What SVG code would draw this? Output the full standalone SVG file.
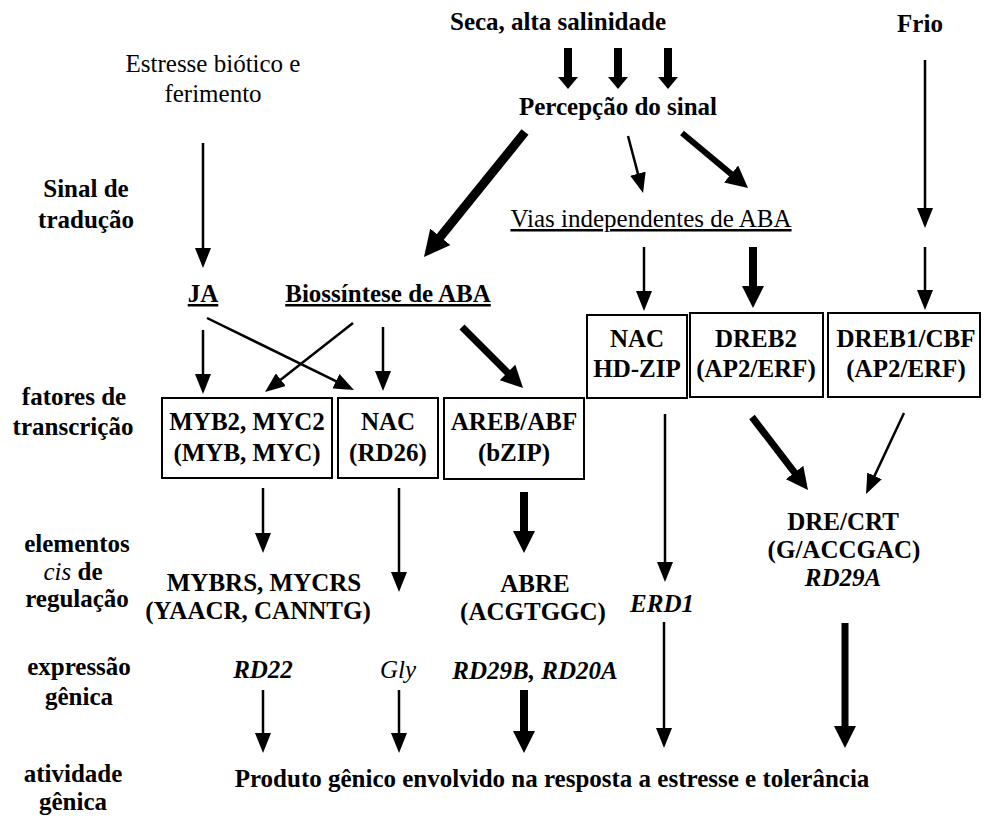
<svg xmlns="http://www.w3.org/2000/svg" width="985" height="816" viewBox="0 0 985 816">
<style>
text{font-family:"Liberation Serif","Times New Roman",serif;font-size:25px;fill:#000;text-anchor:middle}
.b{font-weight:bold}
.i{font-style:italic}
.u{text-decoration:underline}
.box{fill:#fff;stroke:#000;stroke-width:2}
.thin{fill:none;stroke:#000;stroke-width:2.5;marker-end:url(#mThin)}
.bold6{fill:none;stroke:#000;stroke-width:6;marker-end:url(#mBold)}
.bold7{fill:none;stroke:#000;stroke-width:7;marker-end:url(#mBold)}
.bold8{fill:none;stroke:#000;stroke-width:8;marker-end:url(#mBold)}
.short{fill:none;stroke:#000;stroke-width:8;marker-end:url(#mShort)}
.big{fill:none;stroke:#000;stroke-width:9;marker-end:url(#mBig)}
</style>
<defs>
<marker id="mThin" markerUnits="userSpaceOnUse" viewBox="0 -8 20 16" markerWidth="20" markerHeight="16" refX="1" refY="0" orient="auto"><path d="M0,-8 L20,0 L0,8 Z" fill="#000"/></marker>
<marker id="mBold" markerUnits="userSpaceOnUse" viewBox="0 -11 22 22" markerWidth="22" markerHeight="22" refX="1" refY="0" orient="auto"><path d="M0,-11 L22,0 L0,11 Z" fill="#000"/></marker>
<marker id="mShort" markerUnits="userSpaceOnUse" viewBox="0 -10 12 20" markerWidth="12" markerHeight="20" refX="1" refY="0" orient="auto"><path d="M0,-10 L12,0 L0,10 Z" fill="#000"/></marker>
<marker id="mBig" markerUnits="userSpaceOnUse" viewBox="0 -13 26 26" markerWidth="26" markerHeight="26" refX="1" refY="0" orient="auto"><path d="M0,-13 L26,0 L0,13 Z" fill="#000"/></marker>
</defs>

<g id="row-labels">
<text class="b" x="86" y="197">Sinal de</text>
<text class="b" x="86" y="228">tradução</text>
<text class="b" x="74" y="405">fatores de</text>
<text class="b" x="73" y="435">transcrição</text>
<text class="b" x="77" y="552">elementos</text>
<text class="b" x="73" y="580"><tspan class="i" font-weight="normal">cis</tspan> de</text>
<text class="b" x="77" y="607">regulação</text>
<text class="b" x="79" y="675">expressão</text>
<text class="b" x="79" y="705">gênica</text>
<text class="b" x="73" y="782">atividade</text>
<text class="b" x="73" y="810">gênica</text>
</g>

<g id="seca"><text class="b" x="558" y="30">Seca, alta salinidade</text></g>
<g id="frio"><text class="b" x="920" y="32">Frio</text></g>
<g id="biotico">
<text x="213" y="72">Estresse biótico e</text>
<text x="213" y="102">ferimento</text>
</g>
<g id="percepcao"><text class="b" x="618" y="115">Percepção do sinal</text></g>
<g id="vias"><text class="u" x="651" y="227">Vias independentes de ABA</text></g>
<g id="ja"><text class="b u" x="203" y="302">JA</text></g>
<g id="biossintese"><text class="b u" x="388" y="302">Biossíntese de ABA</text></g>

<g id="box-myb">
<rect class="box" x="162" y="398" width="170" height="80"/>
<text class="b" x="247" y="430">MYB2, MYC2</text>
<text class="b" x="247" y="461">(MYB, MYC)</text>
</g>
<g id="box-nac">
<rect class="box" x="338" y="398" width="100" height="80"/>
<text class="b" x="388" y="430">NAC</text>
<text class="b" x="388" y="461">(RD26)</text>
</g>
<g id="box-areb">
<rect class="box" x="444" y="398" width="140" height="81"/>
<text class="b" x="514" y="430">AREB/ABF</text>
<text class="b" x="514" y="461">(bZIP)</text>
</g>
<g id="box-nac-hdzip">
<rect class="box" x="587" y="315" width="100" height="83"/>
<text class="b" x="637" y="347">NAC</text>
<text class="b" x="637" y="377">HD-ZIP</text>
</g>
<g id="box-dreb2">
<rect class="box" x="690" y="313" width="133" height="84"/>
<text class="b" x="756" y="347">DREB2</text>
<text class="b" x="756" y="377">(AP2/ERF)</text>
</g>
<g id="box-dreb1">
<rect class="box" x="828" y="313" width="152" height="84"/>
<text class="b" x="906" y="347">DREB1/CBF</text>
<text class="b" x="906" y="377">(AP2/ERF)</text>
</g>

<g id="mybrs">
<text class="b" x="264" y="591">MYBRS, MYCRS</text>
<text class="b" x="258" y="619">(YAACR, CANNTG)</text>
</g>
<g id="abre">
<text class="b" x="535" y="592">ABRE</text>
<text class="b" x="533" y="620">(ACGTGGC)</text>
</g>
<g id="dre">
<text class="b" x="843" y="530">DRE/CRT</text>
<text class="b" x="844" y="558">(G/ACCGAC)</text>
<text class="b i" x="843" y="586">RD29A</text>
</g>
<g id="erd1"><text class="b i" x="662" y="612">ERD1</text></g>
<g id="rd22"><text class="b i" x="263" y="678">RD22</text></g>
<g id="gly"><text class="i" x="398" y="678">Gly</text></g>
<g id="rd29b"><text class="b i" x="535" y="679">RD29B, RD20A</text></g>
<g id="produto"><text class="b" x="552" y="787">Produto gênico envolvido na resposta a estresse e tolerância</text></g>

<g id="connectors">
<path class="short" d="M568,48 V78"/>
<path class="short" d="M618,48 V78"/>
<path class="short" d="M668,48 V78"/>
<path class="big" d="M525,132 L439.7,237.6"/>
<path class="thin" d="M628,136 L638.2,174.6"/>
<path class="bold6" d="M682,133 L731.9,174.6"/>
<path class="thin" d="M203,143 V249"/>
<path class="thin" d="M925,60 V209"/>
<path class="thin" d="M203,330 V375"/>
<path class="thin" d="M207,318 L336.9,381.6"/>
<path class="thin" d="M353,323 L280,380.3"/>
<path class="thin" d="M383,327 V372"/>
<path class="bold7" d="M462,327 L508.2,373.2"/>
<path class="thin" d="M644,247 V292"/>
<path class="bold8" d="M753,247 V287"/>
<path class="thin" d="M925,247 V291"/>
<path class="thin" d="M263,488 V534"/>
<path class="thin" d="M399,488 V573"/>
<path class="bold8" d="M524,492 V532"/>
<path class="thin" d="M665,414 V563"/>
<path class="bold7" d="M752,417 L795.2,473.3"/>
<path class="thin" d="M904,413 L874.1,476.8"/>
<path class="thin" d="M263,690 V734"/>
<path class="thin" d="M399,690 V734"/>
<path class="bold8" d="M524,690 V732"/>
<path class="thin" d="M664,622 V729"/>
<path class="bold7" d="M845,623 V727"/>
</g>
</svg>
